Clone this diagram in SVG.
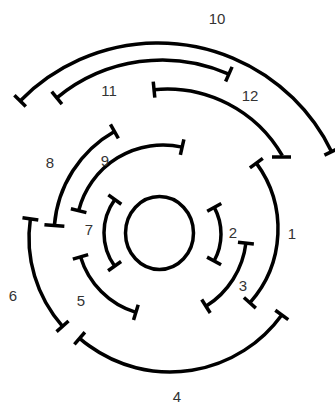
<svg xmlns="http://www.w3.org/2000/svg" width="335" height="405" viewBox="0 0 335 405">
<style>
.arc{fill:none;stroke:#000;stroke-width:3.5}
.tk{stroke:#000;stroke-width:3.5}
.lb{font-family:"Liberation Sans",Arial,sans-serif;font-size:15px;fill:#333;text-anchor:middle}
</style>
<rect width="335" height="405" fill="#fff"/>
<g id="center">
<ellipse cx="159.5" cy="233" rx="34" ry="36.5" fill="none" stroke="#000" stroke-width="3.5"/>
</g>
<g id="connectors">
<g id="arc1">
<circle class="arc" cx="167" cy="229" r="111" pathLength="360" stroke-dasharray="78.1 400" transform="rotate(-36.4 167 229)"/>
<line class="tk" x1="270" y1="229" x2="286" y2="229" transform="rotate(-36.4 167 229)"/>
<line class="tk" x1="270" y1="229" x2="286" y2="229" transform="rotate(41.7 167 229)"/>
</g>
<g id="arc2">
<circle class="arc" cx="165" cy="234" r="56" pathLength="360" stroke-dasharray="57.2 400" transform="rotate(-28.4 165 234)"/>
<line class="tk" x1="213" y1="234" x2="229" y2="234" transform="rotate(-28.4 165 234)"/>
<line class="tk" x1="213" y1="234" x2="229" y2="234" transform="rotate(28.8 165 234)"/>
</g>
<g id="arc3">
<circle class="arc" cx="160" cy="233" r="86.5" pathLength="360" stroke-dasharray="51.2 400" transform="rotate(6.7 160 233)"/>
<line class="tk" x1="238.5" y1="233" x2="254.5" y2="233" transform="rotate(6.7 160 233)"/>
<line class="tk" x1="238.5" y1="233" x2="254.5" y2="233" transform="rotate(57.9 160 233)"/>
</g>
<g id="arc4">
<circle class="arc" cx="170" cy="234" r="138" pathLength="360" stroke-dasharray="95 400" transform="rotate(35.9 170 234)"/>
<line class="tk" x1="300" y1="234" x2="316" y2="234" transform="rotate(35.9 170 234)"/>
<line class="tk" x1="300" y1="234" x2="316" y2="234" transform="rotate(130.9 170 234)"/>
</g>
<g id="arc5">
<circle class="arc" cx="160" cy="233" r="83" pathLength="360" stroke-dasharray="56.4 400" transform="rotate(106.9 160 233)"/>
<line class="tk" x1="235" y1="233" x2="251" y2="233" transform="rotate(106.9 160 233)"/>
<line class="tk" x1="235" y1="233" x2="251" y2="233" transform="rotate(163.3 160 233)"/>
</g>
<g id="arc6">
<circle class="arc" cx="162" cy="238" r="133" pathLength="360" stroke-dasharray="49.9 400" transform="rotate(138.4 162 238)"/>
<line class="tk" x1="287" y1="238" x2="303" y2="238" transform="rotate(138.4 162 238)"/>
<line class="tk" x1="287" y1="238" x2="303" y2="238" transform="rotate(188.3 162 238)"/>
</g>
<g id="arc7">
<circle class="arc" cx="161" cy="233" r="57" pathLength="360" stroke-dasharray="71.4 400" transform="rotate(144.5 161 233)"/>
<line class="tk" x1="210" y1="233" x2="226" y2="233" transform="rotate(144.5 161 233)"/>
<line class="tk" x1="210" y1="233" x2="226" y2="233" transform="rotate(215.9 161 233)"/>
</g>
<g id="arc8">
<circle class="arc" cx="173" cy="235" r="119" pathLength="360" stroke-dasharray="55.9 400" transform="rotate(184.6 173 235)"/>
<line class="tk" x1="282" y1="235" x2="302" y2="235" transform="rotate(184.6 173 235)"/>
<line class="tk" x1="284" y1="235" x2="300" y2="235" transform="rotate(240.5 173 235)"/>
</g>
<g id="arc9">
<circle class="arc" cx="163" cy="232" r="87" pathLength="360" stroke-dasharray="88.5 400" transform="rotate(194.2 163 232)"/>
<line class="tk" x1="242" y1="232" x2="258" y2="232" transform="rotate(194.2 163 232)"/>
<line class="tk" x1="242" y1="232" x2="258" y2="232" transform="rotate(282.7 163 232)"/>
</g>
<g id="arc10">
<circle class="arc" cx="158" cy="236" r="193" pathLength="360" stroke-dasharray="109.7 400" transform="rotate(224.4 158 236)"/>
<line class="tk" x1="343" y1="236" x2="359" y2="236" transform="rotate(224.4 158 236)"/>
<line class="tk" x1="343" y1="236" x2="359" y2="236" transform="rotate(334.1 158 236)"/>
</g>
<g id="arc11">
<circle class="arc" cx="162" cy="225" r="165" pathLength="360" stroke-dasharray="63.5 400" transform="rotate(230.4 162 225)"/>
<line class="tk" x1="319" y1="225" x2="335" y2="225" transform="rotate(230.4 162 225)"/>
<line class="tk" x1="319" y1="225" x2="335" y2="225" transform="rotate(293.9 162 225)"/>
</g>
<g id="arc12">
<circle class="arc" cx="167" cy="222" r="133" pathLength="360" stroke-dasharray="65.7 400" transform="rotate(264.4 167 222)"/>
<line class="tk" x1="292" y1="222" x2="308" y2="222" transform="rotate(264.4 167 222)"/>
<line class="tk" x1="272" y1="157" x2="291" y2="157"/>
</g>
</g>
<g id="labels">
<text class="lb" x="217" y="24">10</text>
<text class="lb" x="109" y="96">11</text>
<text class="lb" x="250" y="101">12</text>
<text class="lb" x="50" y="168">8</text>
<text class="lb" x="105" y="166">9</text>
<text class="lb" x="89" y="235">7</text>
<text class="lb" x="233" y="238">2</text>
<text class="lb" x="292" y="239">1</text>
<text class="lb" x="243" y="291">3</text>
<text class="lb" x="13" y="301">6</text>
<text class="lb" x="81" y="306">5</text>
<text class="lb" x="177" y="402">4</text>
</g>
</svg>
